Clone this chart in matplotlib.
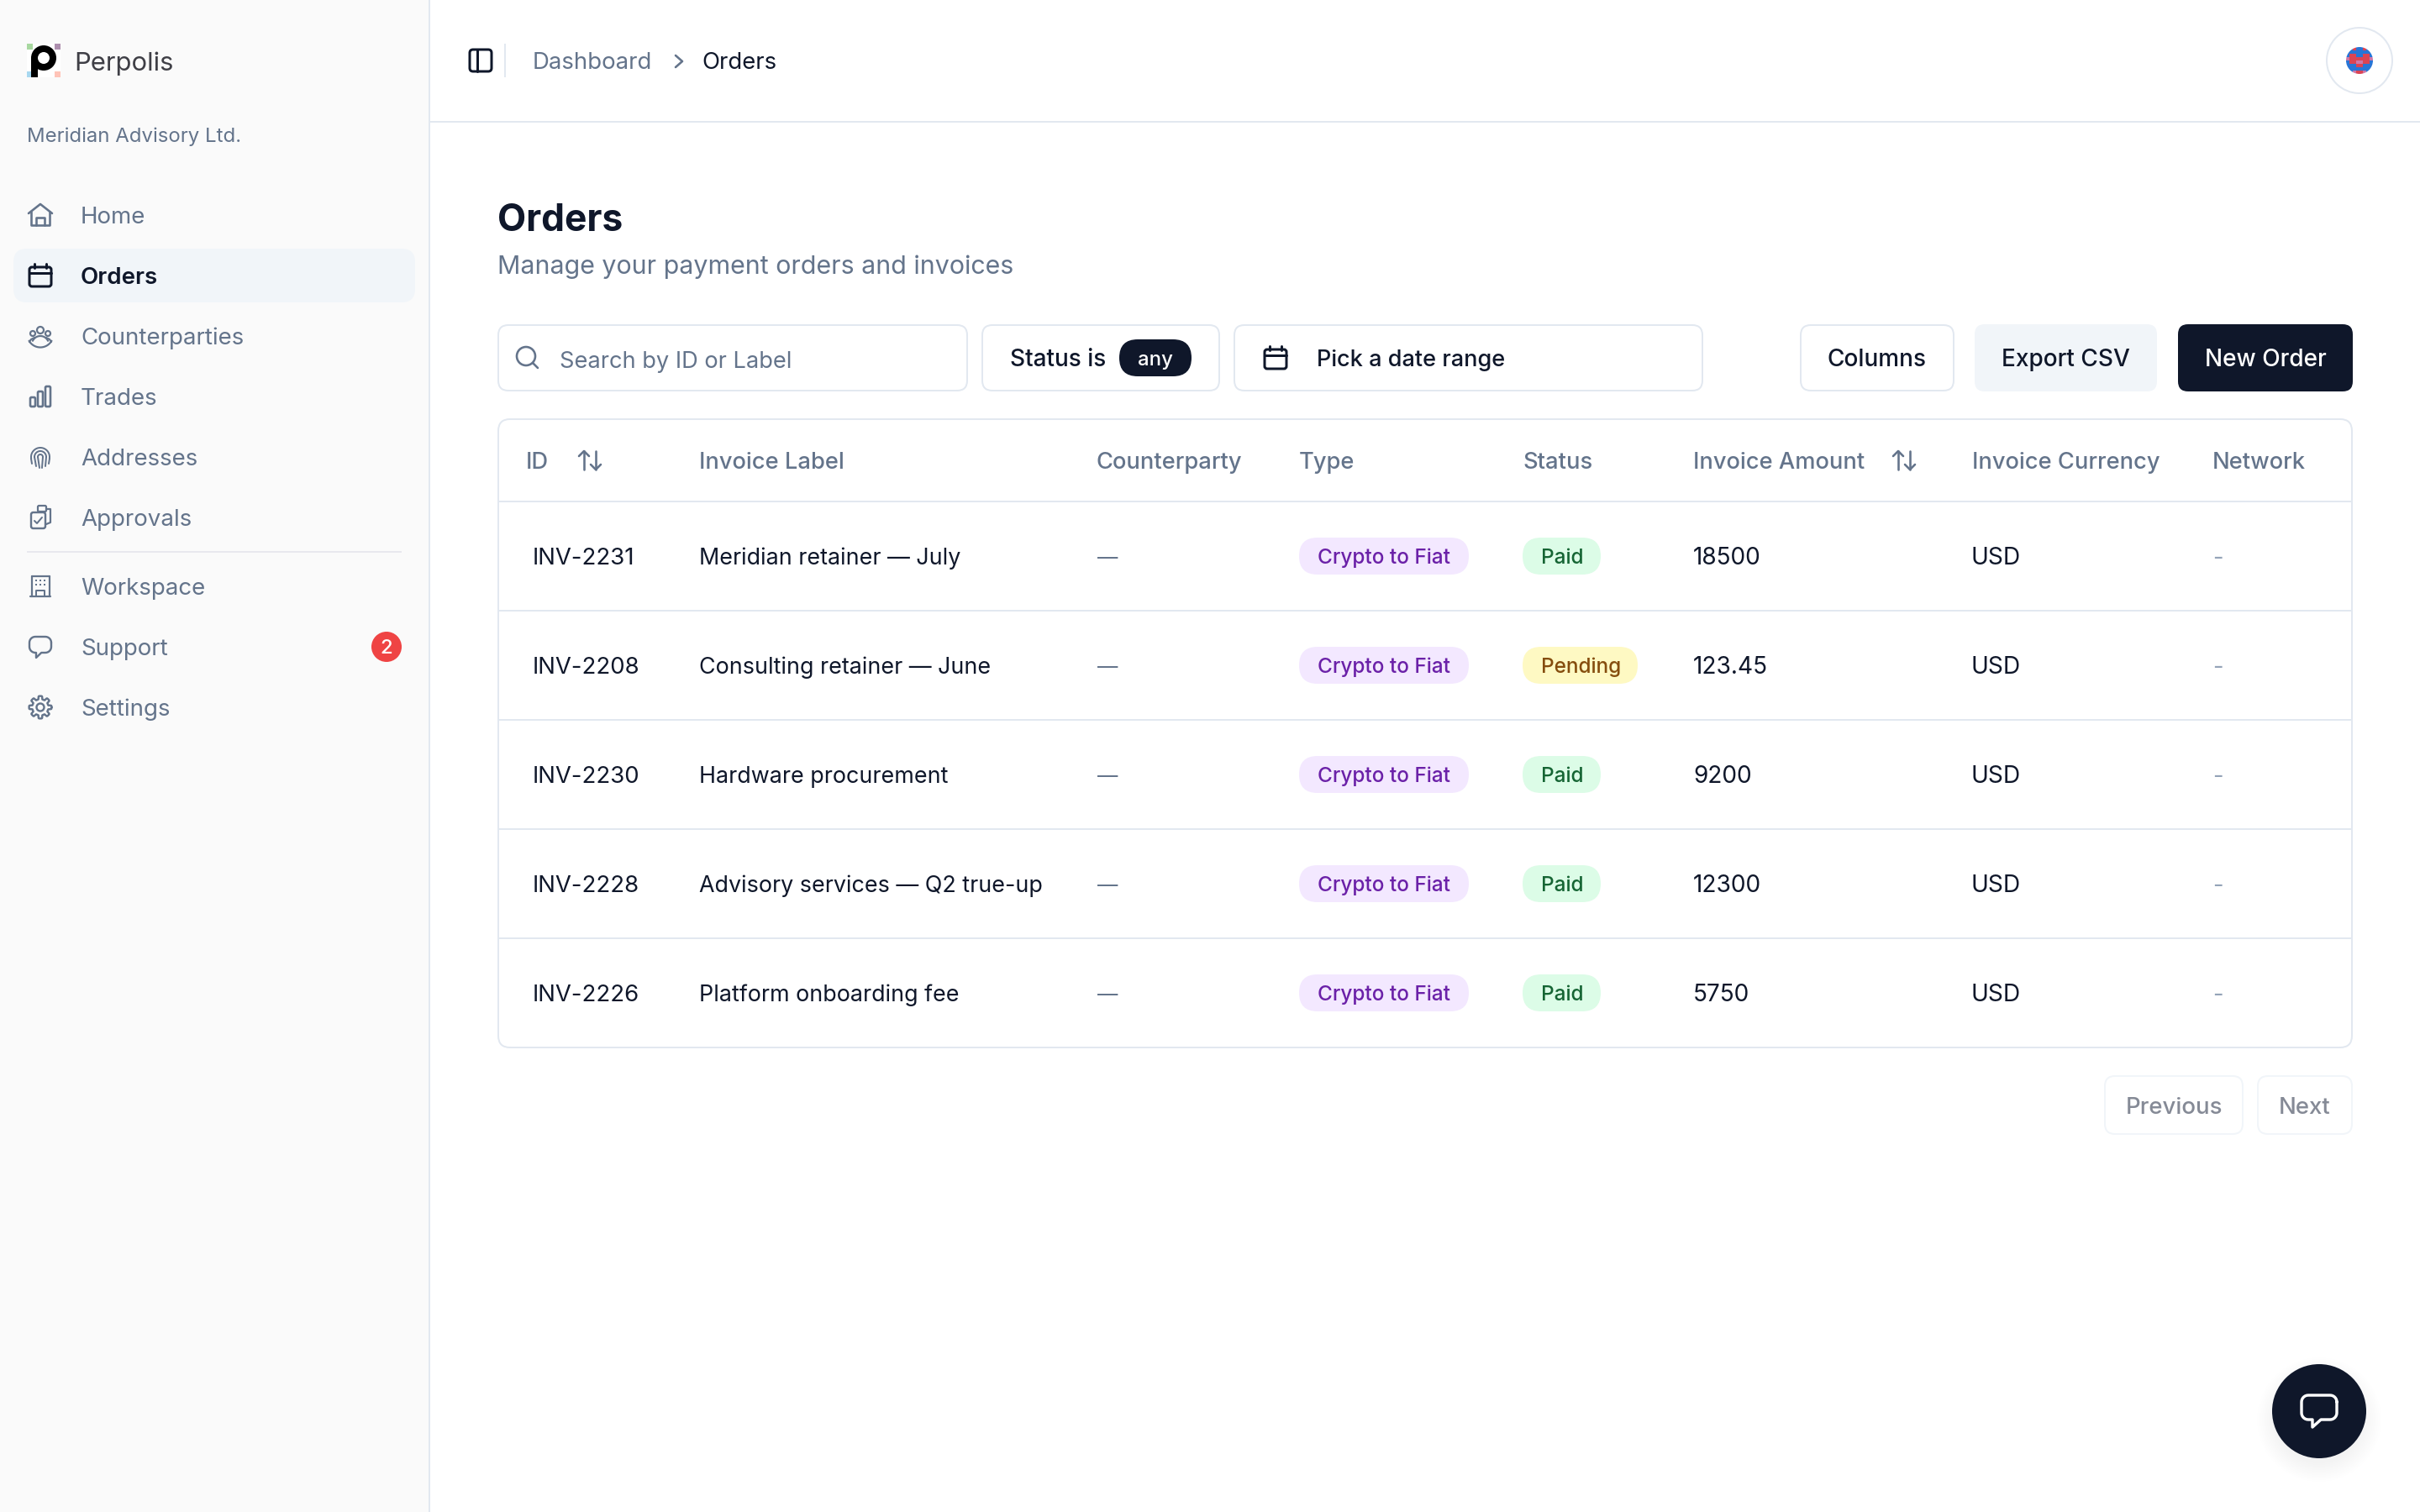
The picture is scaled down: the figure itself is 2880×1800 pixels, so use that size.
#!/usr/bin/env python3
# Orders dashboard screen, drawn on a pixel-sized axes
import numpy as np
import matplotlib
matplotlib.use('Agg')
import matplotlib.pyplot as plt
from matplotlib.patches import FancyBboxPatch, Circle, Rectangle

plt.rcParams['font.family'] = ['Inter', 'DejaVu Sans']

# Content
brand = 'Perpolis'
company = 'Meridian Advisory Ltd.'
nav_top = ['Home', 'Orders', 'Counterparties', 'Trades', 'Addresses', 'Approvals']
nav_bottom = ['Workspace', 'Support', 'Settings']
support_badge = '2'
page_title = 'Orders'
page_sub = 'Manage your payment orders and invoices'
columns = ['ID', 'Invoice Label', 'Counterparty', 'Type', 'Status',
           'Invoice Amount', 'Invoice Currency', 'Network']
ids = ['INV-2231', 'INV-2208', 'INV-2230', 'INV-2228', 'INV-2226']
labels = ['Meridian retainer — July', 'Consulting retainer — June', 'Hardware procurement',
          'Advisory services — Q2 true-up', 'Platform onboarding fee']
counterparties = ['—', '—', '—', '—', '—']
types = ['Crypto to Fiat'] * 5
statuses = ['Paid', 'Pending', 'Paid', 'Paid', 'Paid']
amounts = ['18500', '123.45', '9200', '12300', '5750']
currencies = ['USD', 'USD', 'USD', 'USD', 'USD']
networks = ['-', '-', '-', '-', '-']

# Colours
INK = '#0f172a'
SLATE = '#64748b'
LINE = '#e2e8f0'
SOFT = '#f1f5f9'

fig = plt.figure(figsize=(14.4, 9), dpi=200, facecolor='white')
ax = fig.add_axes([0, 0, 1, 1])
ax.set_xlim(0, 2880)
ax.set_ylim(1800, 0)
ax.axis('off')


def px(w):
    # screen pixels to points
    return w * 72 / 200


def label(x, yc, s, size=13.8, color=INK, weight='normal', ha='left', z=5):
    # size is css px, yc is the middle of the capitals
    base = yc + 0.727 * size * 2 / 2
    ax.text(x, base, s, fontsize=size * 0.72, color=color, fontweight=weight,
            ha=ha, va='baseline', zorder=z)


def box(x0, y0, x1, y1, r=16, fc='white', ec='none', lw=2, z=2):
    p = FancyBboxPatch((x0, y0), x1 - x0, y1 - y0, boxstyle='round,pad=0,rounding_size=%g' % r,
                       fc=fc, ec=ec, lw=px(lw), zorder=z)
    ax.add_patch(p)


def rect(x0, y0, x1, y1, fc, z=1):
    ax.add_patch(Rectangle((x0, y0), x1 - x0, y1 - y0, fc=fc, ec='none', zorder=z))


def line(xs, ys, color=SLATE, lw=2.6, z=6):
    ax.plot(xs, ys, color=color, lw=px(lw), solid_capstyle='round', solid_joinstyle='round', zorder=z)


def ring(cx, cy, r, color=SLATE, lw=2.6, z=6):
    ax.add_patch(Circle((cx, cy), r, fc='none', ec=color, lw=px(lw), zorder=z))


def arc(cx, cy, r, a0, a1, color=SLATE, lw=2.6):
    t = np.radians(np.linspace(a0, a1, 40))
    line(cx + r * np.cos(t), cy + r * np.sin(t), color, lw)


def outline(x0, y0, x1, y1, r, color=SLATE, lw=2.6):
    box(x0, y0, x1, y1, r=r, fc='none', ec=color, lw=lw, z=6)


def calendar(cx, cy, color, lw=3):
    outline(cx - 13, cy - 10, cx + 13, cy + 13, 3, color, lw)
    line([cx - 13, cx + 13], [cy - 3, cy - 3], color, lw)
    line([cx - 7, cx - 7], [cy - 14, cy - 9], color, lw)
    line([cx + 7, cx + 7], [cy - 14, cy - 9], color, lw)


def bubble(x0, y0, x1, y1, tail_x, tail_y, color, lw, r=7, z=6):
    # speech bubble outline with a small tail on the lower left
    t = np.radians(np.linspace(0, 90, 8))
    xs = [x1] + list(x1 - r + r * np.cos(t))
    ys = [y0 + r] + list(y1 - r + r * np.sin(t))
    xs += [tail_x + (x1 - x0) * 0.24, tail_x, tail_x]
    ys += [y1, tail_y, y1]
    xs += list(x0 + r - r * np.sin(t)) + list(x0 + r - r * np.cos(t))
    ys += list(y1 - r + r * np.cos(t)) + list(y0 + r - r * np.sin(t))
    xs += list(x1 - r + r * np.sin(t)) + [x1]
    ys += list(y0 + r - r * np.cos(t)) + [y0 + r]
    line(xs, ys, color, lw, z)


def sort_arrows(x, yc):
    up, dn = x - 7, x + 7
    line([up, up], [yc - 11, yc + 11])
    line([up - 6, up, up + 6], [yc - 5, yc - 11, yc - 5])
    line([dn, dn], [yc - 11, yc + 11])
    line([dn - 6, dn, dn + 6], [yc + 5, yc + 11, yc + 5])


# Sidebar and header
rect(0, 0, 510, 1800, '#fafafa')
rect(510, 0, 512, 1800, LINE)
rect(512, 144, 2880, 146, LINE)

# Logo
rect(32, 52, 72, 92, 'white')
rect(32, 52, 39, 59, '#a8d8a0', 2)
rect(65, 52, 72, 59, '#ad8fae', 2)
rect(32, 85, 37, 92, '#a8d8f0', 2)
rect(65, 85, 72, 92, '#ffc4b8', 2)
ax.add_patch(Circle((52, 69), 15, fc='black', ec='none', zorder=3))
rect(37, 69, 45, 92, 'black', 3)
ax.add_patch(Circle((52, 69), 7, fc='white', ec='none', zorder=4))
label(88, 73, brand, size=15.5, color='#3f3f46')
label(32, 160, company, size=12, color=SLATE)

# Navigation
box(16, 296, 494, 360, r=16, fc=SOFT, ec='none')
nav_y = 256
for i, name in enumerate(nav_top):
    active = name == 'Orders'
    label(96, nav_y + i * 72, name, color=INK if active else SLATE, weight='semibold' if active else 'normal', size=13.85)
rect(32, 656, 478, 658, '#e8e8ee')
for i, name in enumerate(nav_bottom):
    label(96, 698 + i * 72, name, color=SLATE, size=13.85)

# Nav icons
line([34, 48, 62], [254, 243, 254])
line([37, 37, 59, 59], [252, 268, 268, 252])
line([43, 43, 53, 53], [268, 259, 259, 268])
calendar(48, 328, INK, 3)
ring(48, 393, 4, lw=2.2)
ring(39, 397, 3, lw=2.2)
ring(57, 397, 3, lw=2.2)
arc(48, 410, 10, 205, 335, lw=2.2)
arc(48, 398, 15.5, 30, 150, lw=2.2)
line([35, 37, 41], [407, 404, 402], lw=2.2)
line([61, 59, 55], [407, 404, 402], lw=2.2)
outline(36, 473, 42, 484, 1.5)
outline(45, 466, 51, 484, 1.5)
outline(54, 460, 60, 484, 1.5)
# fingerprint
arc(48, 544, 11, 170, 370, lw=2)
line([37, 38], [546, 552], lw=2)
line([59, 58], [546, 552], lw=2)
arc(48, 544, 7, 180, 360, lw=2)
line([41, 43], [544, 555], lw=2)
line([55, 54], [544, 555], lw=2)
arc(48, 544, 3, 180, 360, lw=2)
line([45, 47], [544, 557], lw=2)
line([51, 50], [544, 557], lw=2)
outline(37, 610, 54, 629, 2.5, lw=2.4)
outline(45, 602, 55, 609, 1.5, lw=2.2)
line([55, 60, 60, 55], [606, 606, 622, 624], lw=2.2)
line([41, 44, 50], [620, 623, 616], lw=2)
line([36, 60], [710, 710], lw=2.2)
line([38, 38], [686, 710], lw=2.2)
line([59, 59], [686, 710], lw=2.2)
line([38, 59], [686, 686], lw=2.2)
for gx in [43, 48, 53]:
    for gy in [691, 696]:
        ax.add_patch(Rectangle((gx - 1, gy - 1), 2, 2, fc=SLATE, ec='none', zorder=6))
line([43, 43, 53, 53], [710, 703, 703, 710], lw=2)
bubble(35, 758, 61, 777, 43, 783, SLATE, 2.4)
# gear
t = np.linspace(0, 2 * np.pi, 241)
rg = 11.5 + 1.9 * np.tanh(4 * np.cos(8 * t))
line(48 + rg * np.cos(t), 842 + rg * np.sin(t), lw=2.4)
ring(48, 842, 4.5, lw=2.4)

ax.add_patch(Circle((460, 770), 18, fc='#ef4444', ec='none', zorder=4))
ax.text(460, 770 + 7.5, support_badge, fontsize=12 * 0.72, color='white', ha='center', va='baseline',
        fontweight='medium', zorder=5)

# Top bar
outline(559, 59, 585, 85, 4, INK, 3)
line([568, 568], [59, 85], INK, 3)
rect(600, 52, 602, 92, LINE)
label(634, 72, 'Dashboard', color=SLATE)
line([804, 812, 804], [66, 73, 80], SLATE, 2.6)
label(835, 72, 'Orders', color=INK)

# Avatar
ax.add_patch(Circle((2808, 72), 39, fc='white', ec=LINE, lw=px(2), zorder=2))
avatar = np.array([[0, 0, 1, 0, 0, 1, 0, 0],
                   [0, 0, 0, 0, 0, 0, 0, 0],
                   [0, 1, 1, 0, 0, 1, 1, 0],
                   [2, 1, 1, 1, 1, 1, 1, 2],
                   [0, 1, 1, 2, 2, 1, 1, 0],
                   [0, 0, 0, 1, 1, 0, 0, 0],
                   [0, 0, 0, 0, 0, 0, 0, 0],
                   [0, 0, 2, 1, 1, 2, 0, 0]])
av_cols = np.array([[0.16, 0.46, 0.84], [0.86, 0.27, 0.33], [0.80, 0.47, 0.66]])
im = ax.imshow(av_cols[avatar], extent=(2792, 2824, 88, 56), interpolation='nearest', zorder=3, aspect='auto')
im.set_clip_path(Circle((2808, 72), 16, transform=ax.transData))
ax.set_xlim(0, 2880)
ax.set_ylim(1800, 0)

# Title
label(592, 259, page_title, size=22.2, weight='bold')
label(592, 315, page_sub, size=15.2, color=SLATE)

# Toolbar
box(593, 387, 1151, 465, r=12, ec=LINE)
ring(626, 424, 11)
line([634, 640], [432, 438])
label(666, 428, 'Search by ID or Label', size=13.65, color=SLATE)
box(1169, 387, 1451, 465, r=12, ec=LINE)
label(1202, 426, 'Status is', size=14, weight='medium')
box(1332, 404, 1418, 448, r=22, fc=INK)
label(1375, 426, 'any', size=12, color='white', weight='medium', ha='center')
box(1469, 387, 2026, 465, r=12, ec=LINE)
calendar(1518, 426, INK, 3)
label(1567, 426, 'Pick a date range', size=13.55, weight='medium')
box(2143, 387, 2325, 465, r=12, ec=LINE)
label(2234, 426, 'Columns', size=14, weight='medium', ha='center')
box(2350, 386, 2567, 466, r=12, fc=SOFT)
label(2458, 426, 'Export CSV', size=14, weight='medium', ha='center')
box(2592, 386, 2800, 466, r=12, fc=INK)
label(2696, 426, 'New Order', size=14, color='white', weight='medium', ha='center')

# Table
box(593, 499, 2799, 1247, r=14, ec=LINE)
head_x = [626, 832, 1305, 1546, 1812, 2015, 2347, 2633]
for x, c in zip(head_x, columns):
    label(x, 548, c, size=13.65, color=SLATE, weight='medium')
sort_arrows(702, 548)
sort_arrows(2266, 548)
rect(593, 596, 2799, 598, LINE, 3)
status_style = {'Paid': ('#dcfce7', '#166534', 93), 'Pending': ('#fef9c3', '#854d0e', 137)}
for i in range(len(ids)):
    y = 662 + 130 * i
    if i > 0:
        rect(593, y - 66, 2799, y - 64, LINE, 3)
    label(634, y, ids[i])
    label(832, y, labels[i], size=13.45)
    label(1306, y + 1, counterparties[i], size=12.2, color=SLATE)
    box(1546, y - 22, 1748, y + 22, r=22, fc='#f3e8ff')
    label(1568, y, types[i], size=12.2, color='#6b21a8', weight='medium')
    fc, tc, w = status_style[statuses[i]]
    box(1812, y - 22, 1812 + w, y + 22, r=22, fc=fc)
    label(1834, y, statuses[i], size=12.2, color=tc, weight='medium')
    label(2015, y, amounts[i], size=14)
    label(2346, y, currencies[i], size=14)
    label(2633, y, networks[i], color='#94a3b8')

# Pagination
box(2505, 1281, 2669, 1350, r=12, ec=SOFT)
label(2587, 1316, 'Previous', color='#858a96', weight='medium', ha='center')
box(2687, 1281, 2799, 1350, r=12, ec=SOFT)
label(2743, 1316, 'Next', color='#858a96', weight='medium', ha='center')

# Chat button
for k in range(12):
    ax.add_patch(Circle((2760, 1690), 74 - k * 2, fc='black', ec='none', alpha=0.005, zorder=7))
ax.add_patch(Circle((2760, 1680), 56, fc=INK, ec='none', zorder=8))
bubble(2739, 1661, 2781, 1690, 2752, 1699, 'white', 3.4, r=8, z=9)

fig.savefig('out.png', dpi=200, facecolor='white')
